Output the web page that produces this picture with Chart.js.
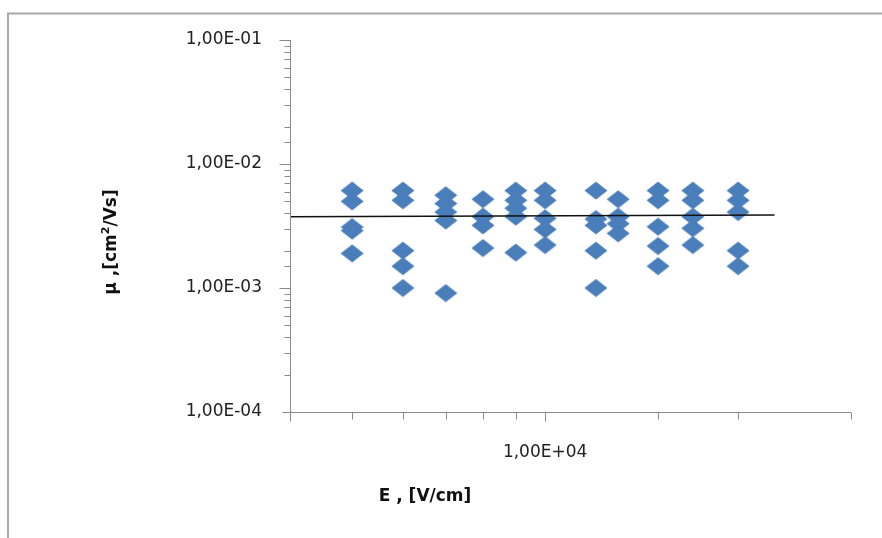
<!DOCTYPE html>
<html><head><meta charset="utf-8">
<script src="https://cdn.jsdelivr.net/npm/chart.js@4/dist/chart.umd.min.js"></script>
<style>html,body{margin:0;padding:0;background:#fff;overflow:hidden}</style>
</head><body>
<canvas id="c" width="882" height="538"></canvas>
<script>
// ---- data ----
const fieldE = [5000, 6000, 7000, 8000, 9000, 10000, 12000, 13000, 15000, 17000, 20000];
const mobility = [
  [6.1e-3, 5.0e-3, 3.1e-3, 2.9e-3, 1.9e-3],
  [6.1e-3, 5.1e-3, 2.0e-3, 1.5e-3, 1.0e-3],
  [5.6e-3, 4.8e-3, 4.1e-3, 3.5e-3, 9.1e-4],
  [5.2e-3, 3.76e-3, 3.2e-3, 2.1e-3],
  [6.1e-3, 5.1e-3, 4.4e-3, 3.76e-3, 1.93e-3],
  [6.1e-3, 5.1e-3, 3.65e-3, 2.97e-3, 2.22e-3],
  [6.1e-3, 3.6e-3, 3.2e-3, 2.0e-3, 1.0e-3],
  [5.2e-3, 3.76e-3, 3.3e-3, 2.76e-3],
  [6.1e-3, 5.1e-3, 3.12e-3, 2.18e-3, 1.5e-3],
  [6.1e-3, 5.1e-3, 3.76e-3, 3.03e-3, 2.22e-3],
  [6.1e-3, 5.1e-3, 4.1e-3, 2.0e-3, 1.5e-3]
];
const fitLineE = [4000, 22800];
const fitLineMu = [3.76e-3, 3.88e-3];
const yMajorValues = [1e-4, 1e-3, 1e-2, 1e-1];
const yMajorLabels = ['1,00E-04', '1,00E-03', '1,00E-02', '1,00E-01'];
const xMajorValues = [1e4];
const xMajorLabels = ['1,00E+04'];
const xTitle = 'E , [V/cm]';
const yTitleParts = ['\u03bc ,[cm', '2', '/Vs]'];

// ---- build ----
const scatterPts = [];
fieldE.forEach((e, i) => mobility[i].forEach(m => scatterPts.push({x: e, y: m})));
const linePts = fitLineE.map((e, i) => ({x: e, y: fitLineMu[i]}));

const diamond = document.createElement('canvas');
diamond.width = 24; diamond.height = 19;
(function(){
  const g = diamond.getContext('2d');
  g.fillStyle = '#4A7EBB';
  g.beginPath();
  g.moveTo(12, 0.5); g.lineTo(23.5, 9.5); g.lineTo(12, 18.5); g.lineTo(0.5, 9.5);
  g.closePath(); g.fill();
})();

function labelFor(values, labels) {
  return function(v) {
    for (let i = 0; i < values.length; i++) {
      if (Math.abs(values[i] - v) / values[i] < 1e-6) return labels[i];
    }
    return '';
  };
}
function isPow10(v) {
  const l = Math.log10(v);
  return Math.abs(l - Math.round(l)) < 1e-6;
}

const AXIS = '#8a8a8a';
const FONT = 'DejaVu Sans';

const decor = {
  id: 'decor',
  beforeDraw(chart) {
    const ctx = chart.ctx;
    ctx.save();
    ctx.strokeStyle = '#a8a8a8';
    ctx.lineWidth = 2;
    ctx.beginPath();
    ctx.moveTo(8, 540); ctx.lineTo(8, 13.5); ctx.lineTo(884, 13.5);
    ctx.stroke();
    ctx.restore();
  },
  afterDatasetsDraw(chart) {
    const ctx = chart.ctx;
    const a = chart.chartArea;
    const xs = chart.scales.x, ys = chart.scales.y;
    const L = Math.round(a.left) + 0.5, B = Math.round(a.bottom) + 0.5;
    ctx.save();
    ctx.strokeStyle = AXIS;
    ctx.lineWidth = 1;
    ctx.beginPath();
    ctx.moveTo(L, a.top); ctx.lineTo(L, B + 9);
    ctx.moveTo(L - 8, B); ctx.lineTo(a.right, B);
    ys.ticks.forEach(t => {
      const p = Math.round(ys.getPixelForValue(t.value)) + 0.5;
      if (Math.abs(p - B) < 1) return;
      const len = isPow10(t.value) ? 11 : 6;
      ctx.moveTo(L - len, p); ctx.lineTo(L, p);
    });
    xs.ticks.forEach(t => {
      const p = Math.round(xs.getPixelForValue(t.value)) + 0.5;
      if (Math.abs(p - L) < 1) return;
      const len = isPow10(t.value) ? 9 : 7;
      ctx.moveTo(p, B); ctx.lineTo(p, B + len);
    });
    ctx.stroke();
    ctx.restore();
  },
  afterDraw(chart) {
    const ctx = chart.ctx;
    ctx.save();
    ctx.fillStyle = '#111';
    ctx.textBaseline = 'middle';
    ctx.textAlign = 'center';
    ctx.font = 'bold 17px "' + FONT + '"';
    ctx.fillText(xTitle, 425, 497);
    // y title rotated
    ctx.translate(112, 242);
    ctx.rotate(-Math.PI / 2);
    const big = 'bold 17px "' + FONT + '"', small = 'bold 11px "' + FONT + '"';
    ctx.font = big; const w0 = ctx.measureText(yTitleParts[0]).width;
    ctx.font = small; const w1 = ctx.measureText(yTitleParts[1]).width;
    ctx.font = big; const w2 = ctx.measureText(yTitleParts[2]).width;
    let x = -(w0 + w1 + w2) / 2;
    ctx.textAlign = 'left';
    ctx.font = big; ctx.fillText(yTitleParts[0], x, 0); x += w0;
    ctx.font = small; ctx.fillText(yTitleParts[1], x, -6); x += w1;
    ctx.font = big; ctx.fillText(yTitleParts[2], x, 0);
    ctx.restore();
  }
};

new Chart(document.getElementById('c'), {
  type: 'scatter',
  data: {
    datasets: [
      {
        type: 'line',
        data: linePts,
        borderColor: '#111',
        borderWidth: 1.6,
        pointRadius: 0,
        fill: false
      },
      {
        data: scatterPts,
        pointStyle: diamond,
        pointRadius: 10,
        backgroundColor: '#4A7EBB',
        borderColor: '#4A7EBB'
      }
    ]
  },
  options: {
    responsive: false,
    animation: false,
    devicePixelRatio: 1,
    layout: {padding: {left: 0, top: 40, right: 31, bottom: 0}},
    plugins: {legend: {display: false}, tooltip: {enabled: false}},
    scales: {
      x: {
        type: 'logarithmic',
        position: 'bottom',
        min: 4000, max: 30000,
        grid: {display: false, drawTicks: false},
        border: {display: false},
        afterFit(s) { s.height = 126; },
        ticks: {
          autoSkip: false, maxRotation: 0, padding: 30,
          color: '#222', font: {family: FONT, size: 17},
          callback: labelFor(xMajorValues, xMajorLabels)
        }
      },
      y: {
        type: 'logarithmic',
        position: 'left',
        min: 1e-4, max: 1e-1,
        grid: {display: false, drawTicks: false},
        border: {display: false},
        afterFit(s) { s.width = 290; },
        ticks: {
          autoSkip: false, padding: 28,
          color: '#222', font: {family: FONT, size: 17},
          callback: labelFor(yMajorValues, yMajorLabels)
        }
      }
    }
  },
  plugins: [decor]
});
</script>
</body></html>
